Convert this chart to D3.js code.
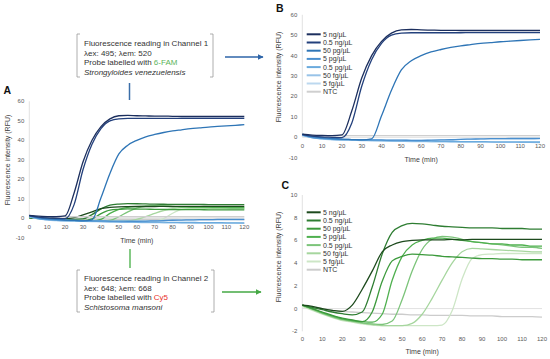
<!DOCTYPE html>
<html>
<head>
    <title>LAMP fluorescence curves</title>
    <script src="https://d3js.org/d3.v7.min.js"></script>
    <style>
        body { margin: 0; background: #fff; }
        svg { font-family: "Liberation Sans", Arial, sans-serif; display: block; }
        .tick-label { fill: #595959; font-size: 6px; }
        .axis-title { fill: #404040; font-size: 7px; }
        .legend text { fill: #333; font-size: 7px; }
        .box text { fill: #333; font-size: 8px; }
        .panel-label { font-weight: bold; font-size: 10.5px; fill: #111; }
    </style>
</head>
<body>
    <div id="chart"></div>
    <script>
        // time axis (min)
        const times = [0,5,10,15,20,25,30,35,40,45,50,55,60,65,70,75,80,85,90,95,100,105,110,115,120];
        const seriesNames = ["5 ng/\u00b5L", "0.5 ng/\u00b5L", "50 pg/\u00b5L", "5 pg/\u00b5L", "0.5 pg/\u00b5L", "50 fg/\u00b5L", "5 fg/\u00b5L", "NTC"];
        const xTicks = [0,10,20,30,40,50,60,70,80,90,100,110,120];
        const yTicksAB = [-10,0,10,20,30,40,50,60];
        const yTicksC = [-2,0,2,4,6,8,10];

        // channel 1 (6-FAM, S. venezuelensis)
        const ch1_5ng   = [1.5,1.1,0.9,0.8,1.2,13,29,40,47,51,52.6,52.8,52.6,52.5,52.4,52.4,52.3,52.3,52.3,52.3,52.3,52.3,52.3,52.3,52.3];
        const ch1_05ng  = [1.3,0.6,0.2,0,-0.2,7,25,38,46,50,51,51.2,51.2,51.2,51.2,51.2,51.2,51.3,51.3,51.3,51.3,51.3,51.3,51.3,51.3];
        const ch1_50pg  = [1.5,0.4,-0.2,-0.6,-0.9,-1.1,-1.3,-0.8,10.5,23,33,37.5,40,41.8,43,44,44.8,45.4,46,46.4,46.8,47.1,47.4,47.7,48];
        const ch1_5pg   = [1.2,0,-0.5,-0.8,-1,-1.1,-1.2,-1.3,-1.3,-1.4,-1.4,-1.5,-1.5,-1.4,-1.3,-1.2,-1.0,-0.9,-0.8,-0.7,-0.7,-0.6,-0.6,-0.6,-0.5];
        const ch1_05pg  = [1.0,-0.2,-0.7,-1.0,-1.2,-1.3,-1.4,-1.5,-1.6,-1.7,-1.8,-1.8,-1.9,-1.9,-2.0,-2.0,-2.1,-2.1,-2.1,-2.2,-2.2,-2.2,-2.3,-2.3,-2.3];
        const ch1_50fg  = [0.9,-0.3,-0.9,-1.2,-1.4,-1.5,-1.6,-1.7,-1.8,-1.9,-2.0,-2.1,-2.1,-2.2,-2.2,-2.3,-2.3,-2.4,-2.4,-2.4,-2.5,-2.5,-2.5,-2.5,-2.6];
        const ch1_5fg   = [0.8,-0.2,-0.6,-0.9,-1.0,-1.1,-1.2,-1.3,-1.3,-1.4,-1.4,-1.5,-1.5,-1.5,-1.3,-1.1,-1.0,-0.9,-0.9,-0.8,-0.8,-0.8,-0.8,-0.8,-0.8];
        const ch1_ntc   = [0.9,0.8,0.8,0.8,0.8,0.8,0.8,0.8,0.8,0.8,0.8,0.8,0.8,0.8,0.8,0.8,0.8,0.8,0.8,0.8,0.8,0.8,0.8,0.8,0.8];

        // channel 2 (Cy5, S. mansoni)
        const ch2_5ng   = [0.3,0.2,0,-0.15,-0.25,0.3,1.7,3.3,5.0,5.6,5.9,6.0,6.05,6.05,6.05,6.1,6.05,6.1,6.1,6.1,6.1,6.1,6.1,6.1,6.1];
        const ch2_05ng  = [0.3,0.1,-0.1,-0.3,-0.45,-0.55,-0.3,1.9,4.8,6.7,7.3,7.5,7.45,7.35,7.25,7.2,7.15,7.1,7.1,7.1,7.05,7.05,7.05,7.0,7.0];
        const ch2_50pg  = [0.3,0,-0.3,-0.6,-0.85,-1.0,-1.15,-0.3,2.4,4.2,4.6,4.8,4.75,4.7,4.6,4.55,4.5,4.45,4.4,4.4,4.35,4.35,4.3,4.3,4.3];
        const ch2_5pg   = [0.3,0,-0.35,-0.65,-0.9,-1.05,-1.15,-1.2,-0.5,2.5,4.6,5.6,6.0,6.2,6.2,6.1,6.0,5.9,5.8,5.7,5.7,5.6,5.6,5.5,5.5];
        const ch2_05pg  = [0.3,-0.05,-0.4,-0.7,-0.95,-1.1,-1.25,-1.35,-1.4,-1.1,0.8,3.3,5.2,6.1,6.35,6.3,6.1,5.9,5.8,5.7,5.6,5.5,5.4,5.4,5.3];
        const ch2_50fg  = [0.25,-0.1,-0.45,-0.75,-1.0,-1.15,-1.3,-1.4,-1.5,-1.5,-1.5,-1.3,-0.5,0.9,2.5,4.0,5.0,5.3,5.25,5.2,5.15,5.1,5.05,5.0,5.0];
        const ch2_5fg   = [0.2,-0.15,-0.5,-0.8,-1.05,-1.2,-1.35,-1.45,-1.5,-1.5,-1.5,-1.5,-1.5,-1.5,-1.45,-0.2,2.6,4.4,4.75,4.8,4.85,4.85,4.85,4.85,4.85];
        const ch2_ntc   = [0.3,0.1,0,-0.15,-0.25,-0.3,-0.35,-0.4,-0.45,-0.5,-0.5,-0.55,-0.55,-0.6,-0.6,-0.6,-0.6,-0.65,-0.65,-0.65,-0.7,-0.7,-0.7,-0.7,-0.75];

        const ch1 = [ch1_5ng, ch1_05ng, ch1_50pg, ch1_5pg, ch1_05pg, ch1_50fg, ch1_5fg, ch1_ntc];
        const ch2 = [ch2_5ng, ch2_05ng, ch2_50pg, ch2_5pg, ch2_05pg, ch2_50fg, ch2_5fg, ch2_ntc];
        const blues  = ["#1c2f5e", "#23407c", "#2e75b6", "#4a8fcf", "#6aaadd", "#98c3e8", "#bcd8ef", "#cfcfcf"];
        const greens = ["#1d4a1d", "#2e7d32", "#3c9a3c", "#4fb04f", "#7cc47a", "#a6d69e", "#cde6c6", "#cccccc"];

        const width = 550, height = 359;
        const svg = d3.select("#chart")
            .append("svg")
            .attr("width", width)
            .attr("height", height);

        function drawPanel(opt) {
            const x = d3.scaleLinear().domain([0, 120]).range(opt.xr);
            const y = d3.scaleLinear().domain(opt.yd).range(opt.yr);
            const g = svg.append("g");

            // axis lines
            g.append("line")
                .attr("x1", x(0)).attr("x2", x(0))
                .attr("y1", y(opt.yd[1])).attr("y2", y(opt.axisBottom))
                .attr("stroke", "#d9d9d9").attr("stroke-width", 0.8);
            g.append("line")
                .attr("x1", x(0)).attr("x2", x(120))
                .attr("y1", y(0)).attr("y2", y(0))
                .attr("stroke", "#d9d9d9").attr("stroke-width", 0.8);

            g.selectAll(".ytick")
                .data(opt.yTicks)
                .join("text")
                .attr("class", "tick-label")
                .attr("x", x(0) - 5)
                .attr("y", d => y(d) + 2)
                .attr("text-anchor", "end")
                .text(d => d);

            g.selectAll(".xtick")
                .data(xTicks)
                .join("text")
                .attr("class", "tick-label")
                .attr("x", d => x(d))
                .attr("y", opt.xLabelY)
                .attr("text-anchor", "middle")
                .text(d => d);

            g.append("text")
                .attr("class", "axis-title")
                .attr("x", (x(0) + x(120)) / 2)
                .attr("y", opt.xTitleY)
                .attr("text-anchor", "middle")
                .text("Time (min)");

            g.append("text")
                .attr("class", "axis-title")
                .attr("transform", `translate(${opt.yTitleX},${opt.yTitleY}) rotate(-90)`)
                .attr("text-anchor", "middle")
                .text("Fluorescence intensity (RFU)");

            const line = d3.line()
                .x((d, i) => x(times[i]))
                .y(d => y(d))
                .curve(d3.curveMonotoneX);

            opt.groups.forEach(grp => {
                // NTC and weakest first so strong curves sit on top
                for (let k = grp.data.length - 1; k >= 0; k--) {
                    g.append("path")
                        .attr("d", line(grp.data[k]))
                        .attr("fill", "none")
                        .attr("stroke", grp.colors[k])
                        .attr("stroke-width", 1.3);
                }
            });

            if (opt.legend) {
                const lg = g.append("g").attr("class", "legend");
                seriesNames.forEach((name, i) => {
                    const cy = opt.legendY + i * 8.2;
                    lg.append("line")
                        .attr("x1", 306.7).attr("x2", 320.7)
                        .attr("y1", cy).attr("y2", cy)
                        .attr("stroke", opt.groups[0].colors[i])
                        .attr("stroke-width", 2);
                    lg.append("text")
                        .attr("x", 323)
                        .attr("y", cy + 2.5)
                        .text(name);
                });
            }

            g.append("text")
                .attr("class", "panel-label")
                .attr("x", opt.labelPos[0])
                .attr("y", opt.labelPos[1])
                .text(opt.label);
        }

        // A: both channels together
        drawPanel({
            xr: [29.3, 244.3], yd: [-10, 60], yr: [237.8, 101.3], axisBottom: 0,
            yTicks: yTicksAB, xLabelY: 229, xTitleY: 243, yTitleX: 9.5, yTitleY: 160,
            groups: [{data: ch2, colors: greens}, {data: ch1, colors: blues}],
            label: "A", labelPos: [3.5, 94]
        });

        // B: channel 1
        drawPanel({
            xr: [302.3, 540], yd: [-10, 60], yr: [157.7, 14.8], axisBottom: 0,
            yTicks: yTicksAB, xLabelY: 147.5, xTitleY: 161.5, yTitleX: 281, yTitleY: 77,
            groups: [{data: ch1, colors: blues}],
            legend: true, legendY: 34.3,
            label: "B", labelPos: [276, 12]
        });

        // C: channel 2
        drawPanel({
            xr: [302.3, 542], yd: [-2, 10], yr: [331.3, 195], axisBottom: -2,
            yTicks: yTicksC, xLabelY: 341, xTitleY: 354, yTitleX: 281, yTitleY: 257,
            groups: [{data: ch2, colors: greens}],
            legend: true, legendY: 212.3,
            label: "C", labelPos: [281.5, 188.5]
        });

        // annotation boxes
        function bracketBox(x0, x1, y0, y1, lines) {
            const b = svg.append("g").attr("class", "box");
            b.append("path")
                .attr("d", `M${x0 + 3},${y0}H${x0}V${y1}H${x0 + 3}M${x1 - 3},${y0}H${x1}V${y1}H${x1 - 3}`)
                .attr("fill", "none").attr("stroke", "#9a9a9a").attr("stroke-width", 0.8);
            lines.forEach((ln, i) => {
                const t = b.append("text").attr("x", x0 + 7).attr("y", ln.y);
                ln.parts.forEach(p => {
                    const s = t.append("tspan").text(p.t);
                    if (p.c) s.attr("fill", p.c);
                    if (p.i) s.attr("font-style", "italic");
                });
            });
        }

        bracketBox(77, 213, 34, 77, [
            {y: 46, parts: [{t: "Fluorescence reading in Channel 1"}]},
            {y: 55.5, parts: [{t: "\u03bbex: 495; \u03bbem: 520"}]},
            {y: 65, parts: [{t: "Probe labelled with "}, {t: "6-FAM", c: "#5bb55b"}]},
            {y: 74.5, parts: [{t: "Strongyloides venezuelensis", i: true}]}
        ]);
        bracketBox(77, 214, 270, 312, [
            {y: 281, parts: [{t: "Fluorescence reading in Channel 2"}]},
            {y: 290.5, parts: [{t: "\u03bbex: 648; \u03bbem: 668"}]},
            {y: 300, parts: [{t: "Probe labelled with "}, {t: "Cy5", c: "#e8302a"}]},
            {y: 309.5, parts: [{t: "Schistosoma mansoni", i: true}]}
        ]);

        // connectors
        const defs = svg.append("defs");
        [["blueHead", "#2e64a8"], ["greenHead", "#45a845"]].forEach(([id, c]) => {
            defs.append("marker")
                .attr("id", id).attr("viewBox", "0 0 10 10")
                .attr("refX", 9).attr("refY", 5)
                .attr("markerWidth", 4).attr("markerHeight", 4)
                .attr("orient", "auto")
                .append("path").attr("d", "M0,0L10,5L0,10Z").attr("fill", c);
        });
        svg.append("line").attr("x1", 225).attr("x2", 263).attr("y1", 57).attr("y2", 57)
            .attr("stroke", "#2e64a8").attr("stroke-width", 1.5).attr("marker-end", "url(#blueHead)");
        svg.append("line").attr("x1", 222).attr("x2", 261).attr("y1", 292).attr("y2", 292)
            .attr("stroke", "#45a845").attr("stroke-width", 1.5).attr("marker-end", "url(#greenHead)");
        svg.append("line").attr("x1", 129.5).attr("x2", 129.5).attr("y1", 83).attr("y2", 100)
            .attr("stroke", "#3b6ea8").attr("stroke-width", 1.5);
        svg.append("line").attr("x1", 130).attr("x2", 130).attr("y1", 249).attr("y2", 268)
            .attr("stroke", "#5cb85c").attr("stroke-width", 1.5);
    </script>
</body>
</html>
